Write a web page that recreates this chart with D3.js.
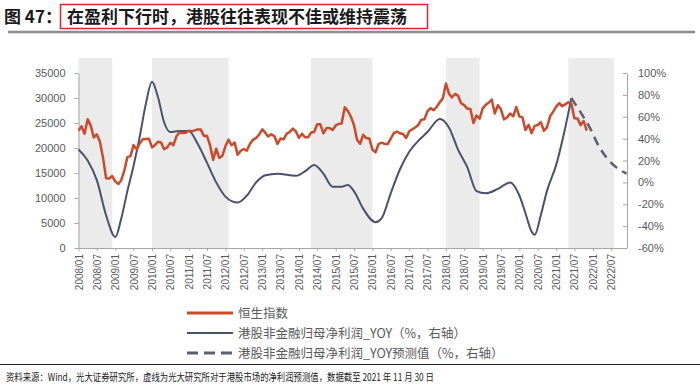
<!DOCTYPE html>
<html><head><meta charset="utf-8">
<script src="https://cdn.jsdelivr.net/npm/d3@7"></script>
<style>
body{margin:0;background:#fff;}
svg{display:block;font-family:"Liberation Sans","Noto Sans CJK SC",sans-serif;}
</style></head><body>
<svg id="c" width="700" height="387"></svg>
<script>
// ---------- DATA ----------
const titlePrefix = "图 47：";
const titleText = "在盈利下行时，港股往往表现不佳或维持震荡";
const sourceText = "资料来源：Wind，光大证券研究所，虚线为光大研究所对于港股市场的净利润预测值，数据截至 2021 年 11 月 30 日";
const legendLabels = ["恒生指数", "港股非金融归母净利润_YOY（%，右轴）", "港股非金融归母净利润_YOY预测值（%，右轴）"];

const hsiStart = "2008/01"; // monthly, month-end
const hsiValues = [
  23456,24332,22849,25755,24533,22102,22731,21261,18016,13969,13888,14387,
  13278,12811,13576,15521,18171,18379,20573,19724,20955,21752,21821,21873,
  20122,20608,21239,21108,19765,20129,21029,20536,22358,23096,23008,23035,
  23447,23338,23528,23721,23684,22398,22440,20535,17592,19864,17989,18434,
  20390,21680,20556,21094,18630,19441,19796,19482,20840,21642,22030,22657,
  23729,23020,22300,22737,22392,20803,21883,21731,22860,23206,23881,23306,
  22035,22837,22151,22134,23082,23191,24757,24742,22933,23998,23987,23605,
  24507,24823,24901,28133,27424,26250,24636,21671,20846,22640,21996,21914,
  19683,19112,20777,21067,20815,20794,21891,22977,23297,22935,22790,22001,
  23361,23741,24112,24615,25661,25765,27324,27970,27554,28246,29177,29919,
  32887,30845,30093,30808,30469,28955,28583,27889,27789,24980,26507,25846,
  27942,28633,29051,29699,26901,28543,27778,25725,26092,26907,26346,28190,
  26313,26130,23603,24644,22961,24427,24595,25177,23459,24107,26341,27231,
  28284,28980,28378,28725,29151,28828,25961,25879,24576,25377,23475
];

const yoyDates = ["2008/01","2008/04","2008/07","2008/10","2009/01","2009/03","2009/05","2009/07","2009/09","2009/11","2010/01","2010/03","2010/05","2010/07","2010/10","2011/01","2011/04","2011/07","2011/10","2012/01","2012/05","2012/08","2012/11","2013/02","2013/06","2013/12","2014/03","2014/06","2014/09","2014/12","2015/03","2015/05","2015/07","2015/10","2016/02","2016/04","2016/07","2016/10","2017/01","2017/04","2017/07","2017/11","2018/02","2018/05","2018/08","2018/11","2019/02","2019/06","2019/10","2020/01","2020/03","2020/05","2020/06","2020/08","2020/10","2021/01","2021/04","2021/06"];
const yoyValues = [30,20,2,-30,-50,-33,-8,15,42,72,92,78,55,46,47,47,35,18,0,-13,-18.5,-12,0,6.5,8,6,10,16,8,-4,-4,-2.4,-8,-24,-36.5,-33,-10,12,28,38,46,58,50,30,14,-8,-10,-6,0,-12,-28,-45,-48,-30,-8,16,50,77];

const fcDates = ["2021/06","2021/09","2021/12","2022/03","2022/06","2022/09","2022/12"];
const fcValues = [77,64,50,33,21,13,8];

const bandStarts = ["2008/01","2010/01","2014/05","2018/01","2021/05"];
const bandEnds   = ["2008/12","2012/02","2016/01","2018/12","2022/08"];

const leftTicks = [0,5000,10000,15000,20000,25000,30000,35000];
const rightTicks = [-60,-40,-20,0,20,40,60,80,100];
const xTickLabels = ["2008/01","2008/07","2009/01","2009/07","2010/01","2010/07","2011/01","2011/07","2012/01","2012/07","2013/01","2013/07","2014/01","2014/07","2015/01","2015/07","2016/01","2016/07","2017/01","2017/07","2018/01","2018/07","2019/01","2019/07","2020/01","2020/07","2021/01","2021/07","2022/01","2022/07"];

// ---------- CHART ----------
const parse = d3.timeParse("%Y/%m");
const svg = d3.select("#c");
const cjk = '"Noto Sans CJK SC","Liberation Sans",sans-serif';
const gray = "#595959";

const x = d3.scaleTime().domain([parse("2008/01"), parse("2022/12")]).range([78.5, 626.5]);
const yL = d3.scaleLinear().domain([0, 35000]).range([248, 73]);
const yR = d3.scaleLinear().domain([-60, 100]).range([248, 73]);
const plotTop = 58;

// title
svg.append("text").attr("x", 4).attr("y", 23).attr("font-family", cjk).attr("font-weight", "bold")
  .attr("font-size", 17).attr("fill", "#1a1a1a").text(titlePrefix);
svg.append("rect").attr("x", 60.5).attr("y", 4.5).attr("width", 367).attr("height", 24)
  .attr("fill", "none").attr("stroke", "#d9262c").attr("stroke-width", 1.5);
svg.append("text").attr("x", 67).attr("y", 23).attr("font-family", cjk).attr("font-weight", "bold")
  .attr("font-size", 17).attr("fill", "#1a1a1a").text(titleText);
svg.append("line").attr("x1", 8).attr("x2", 695).attr("y1", 32).attr("y2", 32)
  .attr("stroke", "#8c8c8c").attr("stroke-width", 2.5);

// bands
svg.append("g").selectAll("rect").data(bandStarts).join("rect")
  .attr("x", (d) => x(parse(d)))
  .attr("width", (d, i) => x(parse(bandEnds[i])) - x(parse(d)))
  .attr("y", plotTop).attr("height", yL(0) - plotTop)
  .attr("fill", "#ebebeb");

// axes
const axisColor = "#a6a6a6";
const gL = svg.append("g").attr("transform", "translate(78.5,0)")
  .call(d3.axisLeft(yL).tickValues(leftTicks).tickSize(4).tickSizeOuter(0).tickPadding(9).tickFormat(d3.format("d")));
const gR = svg.append("g").attr("transform", "translate(627,0)")
  .call(d3.axisRight(yR).tickValues(rightTicks).tickSize(-4).tickSizeOuter(0).tickPadding(11).tickFormat(d => d + "%"));
const gX = svg.append("g").attr("transform", "translate(0,248)")
  .call(d3.axisBottom(x).tickValues(xTickLabels.map(parse)).tickSize(3).tickSizeOuter(0).tickFormat(d3.timeFormat("%Y/%m")));
gX.selectAll("text").attr("transform", "rotate(-90)").attr("x", -6).attr("y", 0).attr("dy", "0.35em")
  .style("text-anchor", "end").attr("font-size", 10);
[gL, gR, gX].forEach(g => {
  g.select(".domain").attr("stroke", axisColor);
  g.selectAll(".tick line").attr("stroke", axisColor);
  g.selectAll("text").attr("fill", gray).attr("font-family", '"Liberation Sans",sans-serif');
});
gL.selectAll("text").attr("font-size", 11);
gR.selectAll("text").attr("font-size", 11);

// lines
const hsi = hsiValues.map((v, i) => ({ d: d3.timeMonth.offset(parse(hsiStart), i), v }));
const yoy = yoyDates.map((d, i) => ({ d: parse(d), v: yoyValues[i] }));
const fc = fcDates.map((d, i) => ({ d: parse(d), v: fcValues[i] }));

const redColor = "#cb4a2c", blueColor = "#4d4f6e", dashColor = "#5c5e72";

svg.append("path").datum(yoy).attr("fill", "none").attr("stroke", blueColor).attr("stroke-width", 2)
  .attr("d", d3.line().x(p => x(p.d)).y(p => yR(p.v)).curve(d3.curveMonotoneX));
svg.append("path").datum(fc).attr("fill", "none").attr("stroke", dashColor).attr("stroke-width", 2.5)
  .attr("stroke-dasharray", "9,6")
  .attr("d", d3.line().x(p => x(p.d)).y(p => yR(p.v)).curve(d3.curveMonotoneX));
svg.append("path").datum(hsi).attr("fill", "none").attr("stroke", redColor).attr("stroke-width", 2.5)
  .attr("stroke-linejoin", "round")
  .attr("d", d3.line().x(p => x(p.d)).y(p => yL(p.v)));

// legend
const legY = [313, 333, 353];
const legStyles = [
  { c: redColor, w: 3, dash: null },
  { c: blueColor, w: 2, dash: null },
  { c: dashColor, w: 3, dash: "11,6" }
];
const leg = svg.append("g");
legendLabels.forEach((t, i) => {
  leg.append("line").attr("x1", 187).attr("x2", 233).attr("y1", legY[i]).attr("y2", legY[i])
    .attr("stroke", legStyles[i].c).attr("stroke-width", legStyles[i].w)
    .attr("stroke-dasharray", legStyles[i].dash);
  leg.append("text").attr("x", 238).attr("y", legY[i]).attr("dy", "0.36em")
    .attr("font-family", cjk).attr("font-size", 12.5).attr("fill", gray).text(t);
});

// footer
svg.append("line").attr("x1", 0).attr("x2", 700).attr("y1", 364.5).attr("y2", 364.5)
  .attr("stroke", "#222").attr("stroke-width", 1);
svg.append("text").attr("x", 6).attr("y", 381).attr("font-family", cjk).attr("font-size", 10.5)
  .attr("fill", "#222").attr("textLength", 428).attr("lengthAdjust", "spacingAndGlyphs").text(sourceText);
</script>
</body></html>
